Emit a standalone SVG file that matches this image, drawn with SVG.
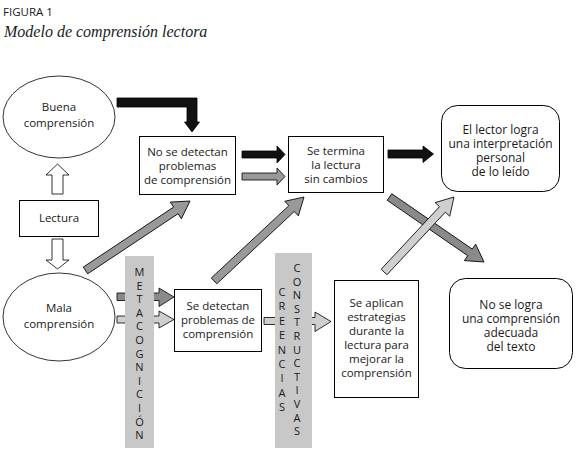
<svg xmlns="http://www.w3.org/2000/svg" width="579" height="454" viewBox="0 0 579 454">
<style>
text{font-family:"Open Sans","Noto Sans","DejaVu Sans",sans-serif;font-size:11.5px;fill:#1a1a1a;text-anchor:middle}
.title{text-anchor:start;font-size:11.5px}
.sub{text-anchor:start;font-family:"Liberation Serif","DejaVu Serif",serif;font-style:italic;font-size:16px}
.box{fill:#fff;stroke:#000;stroke-width:1}
.ell{fill:#fff;stroke:#000;stroke-width:0.8}
.bar{fill:#c8c8c8}
.lt{font-size:11px}
.blk{fill:#111;stroke:#000;stroke-width:0.8}
.g1{fill:#999;stroke:#000;stroke-width:0.8}
.g2{fill:#8a8a8a;stroke:#000;stroke-width:0.8}
.g3{fill:#cfcfcf;stroke:#000;stroke-width:0.8}
.hol{fill:#fff;stroke:#000;stroke-width:0.8}
</style>
<defs>
<polygon id="diag1" points="-125.5,-4 -17,-4 -17,-10 0,0 -17,10 -17,4 -125.5,4"/>
</defs>
<text class="title" x="3" y="16">FIGURA 1</text>
<text class="sub" x="4" y="37">Modelo de comprensión lectora</text>

<g id="connectors">
<polygon class="hol" points="52,194 52,175 46,175 57.5,164 69,175 63,175 63,194"/>
<polygon class="hol" points="52,239 63,239 63,260 69,260 57.5,269 46,260 52,260"/>
<path class="blk" d="M117,98 H197 V122 H199.5 L192,132 L184.5,122 H187 V107 H117 Z"/>
<polygon class="blk" points="242,151 277,151 277,146 285,154.5 277,163 277,158 242,158"/>
<polygon class="g1" points="242,173 277,173 277,168 285,176.5 277,185 277,180 242,180"/>
<polygon class="blk" points="388,150 423,150 423,146 433.5,154 423,162.5 423,158 388,158"/>
<polygon class="g2" points="117,293 159,293 159,288 174,297 159,306.5 159,300.5 117,300.5"/>
<polygon class="g3" points="117,316 159,316 159,311 174,319.5 159,328 159,323 117,323"/>
<polygon class="g3" points="264,317.5 315,317.5 315,312 331,321.5 315,331.5 315,324.5 264,324.5"/>
<polygon class="g1" transform="translate(190,201) rotate(-33.6)" points="-125.5,-4 -17,-4 -17,-10 0,0 -17,10 -17,4 -125.5,4"/>
<polygon class="g1" transform="translate(304,197) rotate(-43)" points="-123,-4 -17,-4 -17,-10 0,0 -17,10 -17,4 -123,4"/>
<polygon class="g2" transform="translate(484,262) rotate(34.5)" points="-114.7,-4 -17,-4 -17,-10 0,0 -17,10 -17,4 -114.7,4"/>
<polygon class="g3" transform="translate(454,197) rotate(-47)" points="-102.6,-4 -17,-4 -17,-10 0,0 -17,10 -17,4 -102.6,4"/>
</g>

<g id="buena">
<ellipse class="ell" cx="59" cy="117" rx="56" ry="41"/>
<text x="59" y="111">Buena</text>
<text x="59" y="127">comprensión</text>
</g>
<g id="lectura">
<rect class="box" x="19.5" y="200.5" width="79" height="36"/>
<text x="59" y="222">Lectura</text>
</g>
<g id="mala">
<ellipse class="ell" cx="59" cy="317" rx="56" ry="44"/>
<text x="59" y="312">Mala</text>
<text x="59" y="328">comprensión</text>
</g>
<g id="nodetectan">
<rect class="box" x="139.5" y="136.5" width="96" height="58"/>
<text x="187.5" y="156">No se detectan</text>
<text x="187.5" y="170">problemas</text>
<text x="187.5" y="184">de comprensión</text>
</g>
<g id="setermina">
<rect class="box" x="288.5" y="136.5" width="95" height="56"/>
<text x="336" y="155">Se termina</text>
<text x="336" y="169">la lectura</text>
<text x="336" y="183">sin cambios</text>
</g>
<g id="ellector">
<rect class="box" x="441.5" y="105.5" width="118" height="86" rx="16"/>
<text x="500.5" y="133.5" style="font-size:12px">El lector logra</text>
<text x="500.5" y="147.5" style="font-size:12px">una interpretación</text>
<text x="500.5" y="161.5" style="font-size:12px">personal</text>
<text x="500.5" y="175.5" style="font-size:12px">de lo leído</text>
</g>
<g id="nologra">
<rect class="box" x="449.5" y="278.5" width="123" height="90" rx="16"/>
<text x="511" y="309" style="font-size:12px">No se logra</text>
<text x="511" y="323" style="font-size:12px">una comprensión</text>
<text x="511" y="337" style="font-size:12px">adecuada</text>
<text x="511" y="351" style="font-size:12px">del texto</text>
</g>
<g id="sedetectan">
<rect class="box" x="174.5" y="289.5" width="87" height="62"/>
<text x="218" y="310">Se detectan</text>
<text x="218" y="324">problemas de</text>
<text x="218" y="338">comprensión</text>
</g>
<g id="seaplican">
<rect class="box" x="334.5" y="280.5" width="84" height="117"/>
<text x="376.5" y="307">Se aplican</text>
<text x="376.5" y="321">estrategias</text>
<text x="376.5" y="335">durante la</text>
<text x="376.5" y="349">lectura para</text>
<text x="376.5" y="363">mejorar la</text>
<text x="376.5" y="377">comprensión</text>
</g>
<g id="metacognicion">
<rect class="bar" x="125" y="256" width="29" height="192"/>
<text class="lt" x="139.5" y="276">M</text>
<text class="lt" x="139.5" y="289.6">E</text>
<text class="lt" x="139.5" y="303.2">T</text>
<text class="lt" x="139.5" y="316.8">A</text>
<text class="lt" x="139.5" y="330.4">C</text>
<text class="lt" x="139.5" y="344">O</text>
<text class="lt" x="139.5" y="357.6">G</text>
<text class="lt" x="139.5" y="371.2">N</text>
<text class="lt" x="139.5" y="384.8">I</text>
<text class="lt" x="139.5" y="398.4">C</text>
<text class="lt" x="139.5" y="412">I</text>
<text class="lt" x="139.5" y="425.6">Ó</text>
<text class="lt" x="139.5" y="439.2">N</text>
</g>
<g id="creencias">
<rect class="bar" x="275" y="253" width="37" height="195"/>
<text class="lt" x="282" y="296">C</text>
<text class="lt" x="282" y="310.4">R</text>
<text class="lt" x="282" y="324.8">E</text>
<text class="lt" x="282" y="339.2">E</text>
<text class="lt" x="282" y="353.6">N</text>
<text class="lt" x="282" y="368">C</text>
<text class="lt" x="282" y="382.4">I</text>
<text class="lt" x="282" y="396.8">A</text>
<text class="lt" x="282" y="411.2">S</text>
<text class="lt" x="297" y="272">C</text>
<text class="lt" x="297" y="285.6">O</text>
<text class="lt" x="297" y="299.2">N</text>
<text class="lt" x="297" y="312.8">S</text>
<text class="lt" x="297" y="326.4">T</text>
<text class="lt" x="297" y="340">R</text>
<text class="lt" x="297" y="353.6">U</text>
<text class="lt" x="297" y="367.2">C</text>
<text class="lt" x="297" y="380.8">T</text>
<text class="lt" x="297" y="394.4">I</text>
<text class="lt" x="297" y="408">V</text>
<text class="lt" x="297" y="421.6">A</text>
<text class="lt" x="297" y="435.2">S</text>
</g>
</svg>
